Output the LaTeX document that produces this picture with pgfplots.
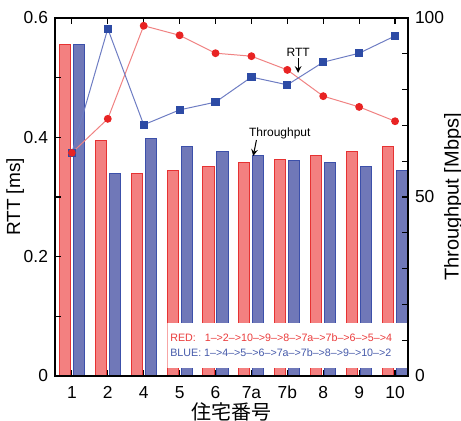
\documentclass[border=0pt]{standalone}
\usepackage{pgfplots}
\pgfplotsset{compat=1.18}
\usepackage{fontspec}
\setmainfont{Liberation Sans}
\newfontfamily\cjk{Noto Sans CJK JP}
\definecolor{barred}{RGB}{243,128,128}
\definecolor{edgered}{RGB}{230,50,50}
\definecolor{barblue}{RGB}{112,120,184}
\definecolor{edgeblue}{RGB}{60,80,170}
\definecolor{linered}{RGB}{240,130,130}
\definecolor{markred}{RGB}{232,35,35}
\definecolor{lineblue}{RGB}{110,125,195}
\definecolor{markblue}{RGB}{45,75,165}
\definecolor{txtred}{RGB}{235,60,60}
\definecolor{txtblue}{RGB}{70,90,170}
\begin{document}
\begin{tikzpicture}
\pgfplotsset{
  common/.style={
    scale only axis, width=176.5pt, height=179pt,
    xmin=-0.47, xmax=9.36,
    tick align=inside,
    major tick length=3pt, minor tick length=3pt,
    every tick/.style={black, line width=0.6pt},
    axis line style={line width=0.7pt},
    tick label style={font=\fontsize{8.7}{10}\selectfont},
    /pgf/number format/assume math mode=true,
    label style={font=\fontsize{9.5}{11}\selectfont},
  }
}
% Throughput bars (right axis)
\begin{axis}[common,
  axis y line*=right, axis x line=none,
  ymin=0, ymax=100,
  ytick={0,50,100}, minor ytick={10,20,30,40,60,70,80,90},
  ylabel={Throughput [Mbps]},
  every axis y label/.style={at={(rel axis cs:1,0.5)}, rotate=90, anchor=north, yshift=-14.5pt},
  axis on top,
]
\addplot[ybar, bar width=0.31, bar shift=-0.195, fill=barred, draw=edgered, line width=0.5pt]
  coordinates {(0,92.7) (1,65.9) (2,56.7) (3,57.5) (4,58.4) (5,59.5) (6,60.6) (7,61.5) (8,62.8) (9,64.2)};
\addplot[ybar, bar width=0.31, bar shift=0.195, fill=barblue, draw=edgeblue, line width=0.5pt]
  coordinates {(0,92.7) (1,56.7) (2,66.2) (3,64.0) (4,62.8) (5,61.5) (6,60.3) (7,59.5) (8,58.4) (9,57.5)};
\fill[white] (axis cs:2.65,2.2) rectangle (axis cs:9.36,14.8);
\draw[barred!70, line width=0.4pt] (axis cs:2.65,2.2) -- (axis cs:2.65,14.8);
\node[anchor=west, inner sep=0pt, text=txtred, font=\fontsize{5.35}{6}\selectfont] at (axis cs:2.73,10.6) {RED:\hspace{3pt} 1–>2–>10–>9–>8–>7a–>7b–>6–>5–>4};
\node[anchor=west, inner sep=0pt, text=txtblue, font=\fontsize{5.35}{6}\selectfont] at (axis cs:2.73,6.4) {BLUE: 1–>4–>5–>6–>7a–>7b–>8–>9–>10–>2};
\end{axis}
% RTT lines (left axis)
\begin{axis}[common,
  ymin=0, ymax=0.6,
  ytick={0,0.2,0.4,0.6}, minor ytick={0.1,0.3,0.5},
  ytick pos=left,
  xtick={0,1,2,3,4,5,6,7,8,9},
  xticklabels={1,2,4,5,6,7a,7b,8,9,10},
  xticklabel style={yshift=-1.5pt, text height=1.5ex, text depth=0.2ex, inner sep=1.5pt},
  xtick pos=both,
  ylabel={RTT [ms]},
  xlabel={\cjk 住宅番号},
  every axis x label/.style={at={(rel axis cs:0.5,0)}, anchor=north, yshift=-12.5pt, inner sep=0.5pt},
  ylabel style={yshift=-7pt},
  clip=false,
]
\coordinate (SW) at (rel axis cs:0,0);
\coordinate (NE) at (rel axis cs:1,1);
\addplot[linered, line width=0.5pt, mark=*, mark size=1.7pt, mark options={fill=markred, draw=markred}]
  coordinates {(0,0.374) (1,0.431) (2,0.587) (3,0.571) (4,0.541) (5,0.536) (6,0.513) (7,0.469) (8,0.451) (9,0.427)};
\addplot[lineblue, line width=0.5pt, mark=square*, mark size=1.8pt, mark options={fill=markblue, draw=markblue}]
  coordinates {(0,0.374) (1,0.582) (2,0.421) (3,0.446) (4,0.459) (5,0.501) (6,0.488) (7,0.526) (8,0.541) (9,0.570)};
\addplot[only marks, mark=*, mark size=1.7pt, mark options={fill=markred, draw=markred}] coordinates {(0,0.374)};
\node[font=\fontsize{6}{7}\selectfont] at (axis cs:6.30,0.543) {RTT};
\draw[-stealth, line width=0.5pt] (axis cs:6.30,0.533) -- (axis cs:6.30,0.508);
\node[font=\fontsize{6}{7}\selectfont] at (axis cs:5.79,0.407) {Throughput};
\draw[-stealth, line width=0.5pt] (axis cs:5.14,0.3955) -- (axis cs:5.05,0.3687);
\end{axis}
\pgfresetboundingbox
\path ([shift={(-27.5pt,-22.5pt)}]SW) rectangle ([shift={(26.5pt,9pt)}]NE);
\end{tikzpicture}
\end{document}
